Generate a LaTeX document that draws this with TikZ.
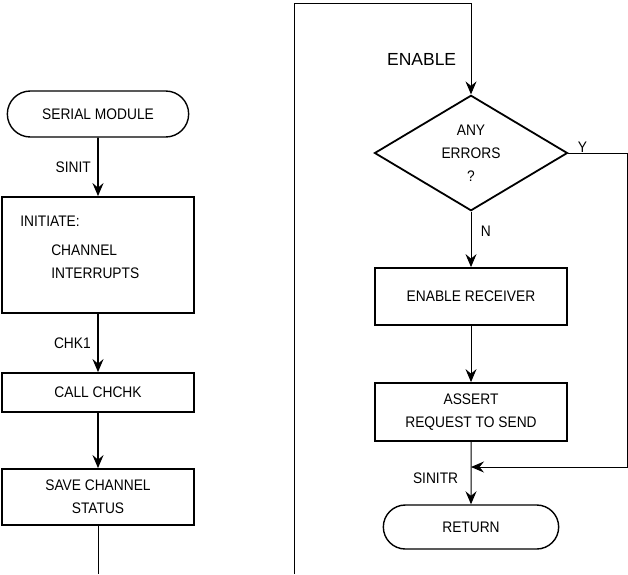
\documentclass[tikz,border=0pt]{standalone}
\usepackage{fontspec}
\setmainfont{Liberation Sans}[FakeStretch=0.9]
\newfontfamily\plainsans{Liberation Sans}
\usetikzlibrary{shapes.geometric,shapes.misc,arrows.meta}

\begin{document}
\begin{tikzpicture}[x=1pt, y=-1pt, node distance=140pt, font=\fontsize{15.3}{23}\selectfont,
    >={Stealth[length=13pt, width=11pt, inset=4.5pt]},
    block/.style={draw, rectangle, line width=1.8pt, minimum width=192pt, inner sep=0pt, align=center},
    term/.style={draw, rounded rectangle, line width=1.4pt, minimum width=188pt, minimum height=46pt},
    decision/.style={draw, diamond, line width=1.8pt, minimum width=193pt, minimum height=114pt, inner sep=0pt, align=center},
    heavy/.style={line width=1.8pt},
    light/.style={line width=1pt}]

    \useasboundingbox (0,0) rectangle (628,574);

    % left column
    \node [term] (sermod) at (98,114) {SERIAL MODULE};
    \node [block, below of=sermod, node distance=141pt, minimum height=116pt] (init) {};
    \node [anchor=north west, align=left, inner sep=0pt] (inittxt) at ([xshift=19pt, yshift=-20pt]init.north west)
          {INITIATE:\\[6pt]\hspace*{31pt}CHANNEL\\\hspace*{31pt}INTERRUPTS};
    \node [block, below of=init, node distance=137.5pt, minimum height=39pt] (call) {CALL CHCHK};
    \node [block, below of=call, node distance=104.5pt, minimum height=56pt] (save) {SAVE CHANNEL\\STATUS};
    \coordinate (leftend) at (96,574);

    \draw [->, heavy] (sermod) -- node[left, xshift=-3pt] {SINIT} (init);
    \draw [->, heavy] (init) -- node[left, xshift=-3pt] {CHK1} (call);
    \draw [->, heavy] (call) -- (save);
    \draw [light] (save.south) -- (save.south |- leftend);

    % right column
    \node [decision] (errs) at (471,153) {ANY\\ERRORS\\?};
    \node [block, below of=errs, node distance=143.5pt, minimum height=57pt] (enrec) {ENABLE RECEIVER};
    \node [block, below of=enrec, node distance=115.5pt, minimum height=58pt] (assert) {ASSERT\\REQUEST TO SEND};
    \node [term, below of=assert, node distance=115pt, minimum width=182pt, minimum height=44pt] (ret) {RETURN};

    \coordinate (loopin) at (294,574);
    \coordinate (looptop) at (294,3);
    \coordinate (ycorner) at (627,0);
    \coordinate (merge) at (471,467);

    \draw [->, light] (loopin) -- (looptop) -| node[pos=0.81, left, xshift=-11pt, font=\plainsans\fontsize{17.5}{20}\selectfont] {ENABLE} (errs.north);
    \draw [->, light] (errs) -- node[right, pos=0.35, xshift=6pt] {N} (enrec);
    \draw [->, light] (enrec) -- (assert);
    \draw [->, light] (assert) -- node[left, pos=0.58, xshift=-9pt] {SINITR} (ret);
    \draw [->, light] (errs.east) -- node[above, pos=0.24, inner sep=0.5pt] {Y} (errs.east -| ycorner) |- (merge);
\end{tikzpicture}
\end{document}
